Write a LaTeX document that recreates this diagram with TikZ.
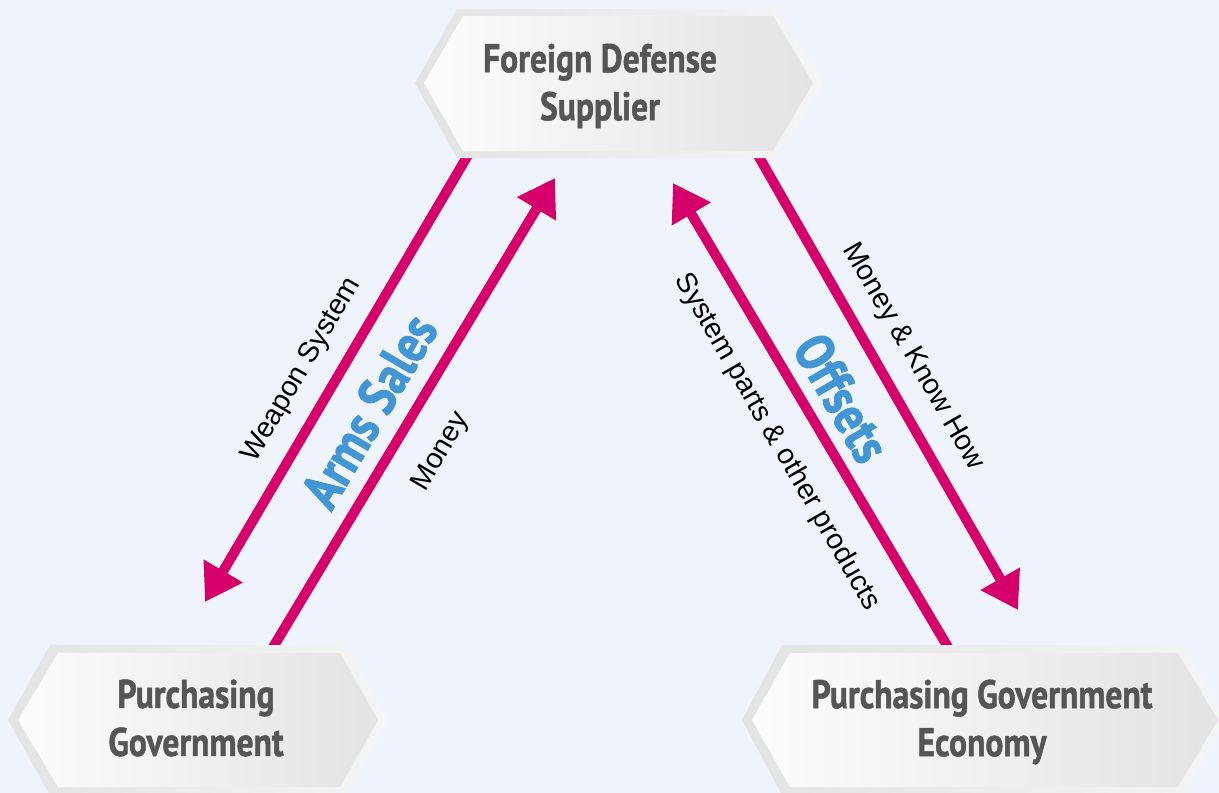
\documentclass[tikz,border=0pt]{standalone}
\usepackage{fontspec}
\setmainfont{Liberation Sans}
\newfontfamily\boxfont[FakeStretch=0.84,FakeBold=1.2]{PT Sans Bold}
\newfontfamily\themefont[FakeStretch=0.84,FakeBold=2]{PT Sans Bold}
\usetikzlibrary{arrows.meta}
\definecolor{bgc}{RGB}{239,244,252}
\definecolor{mag}{RGB}{214,0,106}
\definecolor{lblue}{RGB}{66,150,212}
\definecolor{txtgray}{RGB}{85,85,85}
\pgfdeclarelayer{bg}
\pgfsetlayers{bg,main}
\begin{document}
\begin{tikzpicture}[x=1pt,y=-1pt,
  flow/.style={draw=mag,line width=10pt,-{Triangle[length=36pt,width=43pt]}},
  hexout/.style={left color=black!11,right color=black!4,draw=none},
  hexin/.style={left color=black!1,right color=black!11,draw=none},
  boxtext/.style={font=\boxfont\fontsize{40}{48}\selectfont,text=txtgray,align=center,inner sep=0pt},
  lbl/.style={font=\fontsize{28.5}{32}\selectfont,text=black,inner sep=0pt},
  theme/.style={font=\themefont\fontsize{54}{58}\selectfont,text=lblue,inner sep=0pt}]
\useasboundingbox (0,0) rectangle (1219,793);
\begin{pgfonlayer}{bg}
\fill[bgc] (0,0) rectangle (1219,793);
\end{pgfonlayer}
% hexagons
\path[hexout] (415,83) -- (457,9) -- (777,9) -- (823,83) -- (777,158) -- (457,158) -- cycle;
\path[hexin] (424,83) -- (463,16) -- (773,16) -- (813,83) -- (773,151) -- (463,151) -- cycle;
\path[hexout] (8,720) -- (50,645) -- (347,645) -- (387,720) -- (347,795) -- (50,795) -- cycle;
\path[hexin] (18,720) -- (58,653) -- (340,653) -- (378,720) -- (340,787) -- (58,787) -- cycle;
\path[hexout] (742,720) -- (782,645) -- (1183,645) -- (1225,720) -- (1183,795) -- (782,795) -- cycle;
\path[hexin] (752,720) -- (790,653) -- (1178,653) -- (1218,720) -- (1178,787) -- (790,787) -- cycle;
% box texts
\node[boxtext] (sup) at (600,86) {Foreign Defense\\Supplier};
\node[boxtext] (gov) at (196,718) {Purchasing\\Government};
\node[boxtext] (eco) at (982,722) {Purchasing Government\\Economy};
% connector ends
\coordinate (ws1) at (471,150);
\coordinate (ws2) at (205,602);
\coordinate (mo1) at (269,654);
\coordinate (mo2) at (555,178);
\coordinate (sp1) at (952,654);
\coordinate (sp2) at (673,183);
\coordinate (mk1) at (755,150);
\coordinate (mk2) at (1018,610);
\begin{pgfonlayer}{bg}
\draw[flow] (ws1) -- (ws2);
\draw[flow] (mo1) -- (mo2);
\draw[flow] (sp1) -- (sp2);
\draw[flow] (mk1) -- (mk2);
\end{pgfonlayer}
% labels
\node[lbl,rotate=59.5] (lws) at (302,370) {Weapon System};
\node[lbl,rotate=59.5] (lmo) at (441,452) {Money};
\node[theme,rotate=59.5] (larms) at (369,411) {Arms Sales};
\node[lbl,rotate=-60] (lmk) at (913,357) {Money \& Know How};
\node[lbl,rotate=-60] (lsp) at (777,442) {System parts \& other products};
\node[theme,rotate=-60] (loff) at (842,398) {Offsets};
\end{tikzpicture}
\end{document}
